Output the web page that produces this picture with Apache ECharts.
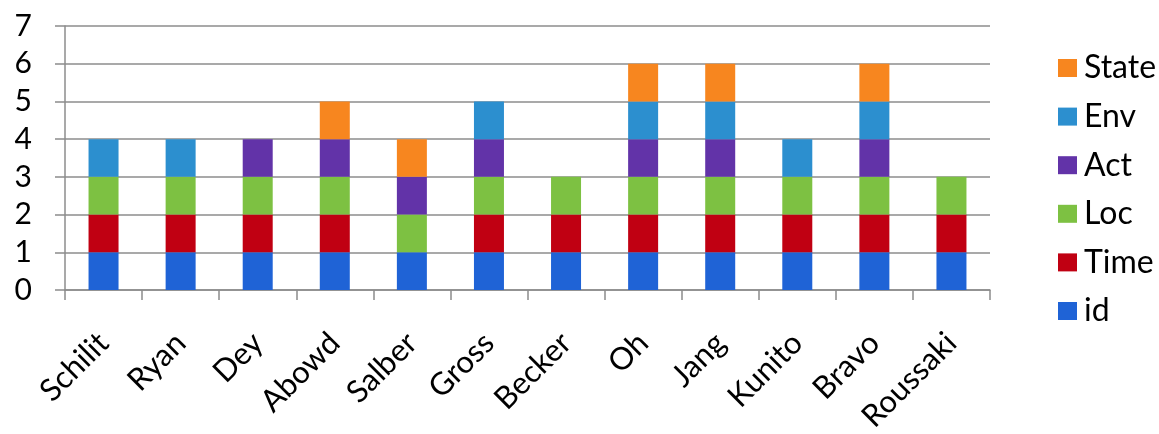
<!DOCTYPE html>
<html>
<head>
<meta charset="utf-8">
<script src="https://cdn.jsdelivr.net/npm/echarts@6/dist/echarts.min.js"></script>
<style>html,body{margin:0;padding:0;background:#fff}#c{width:1159px;height:434px}</style>
</head>
<body>
<div id="c"></div>
<script>
const categories = ['Schilit','Ryan','Dey','Abowd','Salber','Gross','Becker','Oh','Jang','Kunito','Bravo','Roussaki'];
const idVals    = [1,1,1,1,1,1,1,1,1,1,1,1];
const timeVals  = [1,1,1,1,0,1,1,1,1,1,1,1];
const locVals   = [1,1,1,1,1,1,1,1,1,1,1,1];
const actVals   = [0,0,1,1,1,1,0,1,1,0,1,0];
const envVals   = [1,1,0,0,0,1,0,1,1,1,1,0];
const stateVals = [0,0,0,1,1,0,0,1,1,0,1,0];
const yTicks = [0,1,2,3,4,5,6,7];

const FONT = 'Lato';
const colors = {id:'#1F63D6', Time:'#C00012', Loc:'#7DC142', Act:'#6233A8', Env:'#2C8FCF', State:'#F7861F'};
const seriesDefs = [
  ['id', idVals], ['Time', timeVals], ['Loc', locVals],
  ['Act', actVals], ['Env', envVals], ['State', stateVals]
];

const chart = echarts.init(document.getElementById('c'), null, {renderer:'canvas'});
chart.setOption({
  animation: false,
  backgroundColor: '#fff',
  textStyle: {fontFamily: FONT},
  grid: {left: 65, right: 169, top: 26, bottom: 144, containLabel: false, outerBoundsMode: 'none'},
  legend: {
    orient: 'vertical',
    left: 1053,
    top: 47,
    itemWidth: 19,
    itemHeight: 18,
    itemGap: 16.6,
    icon: 'rect',
    data: ['State','Env','Act','Loc','Time','id'],
    textStyle: {fontFamily: FONT, fontSize: 32, color: '#000', padding: [0,0,0,2]}
  },
  xAxis: {
    type: 'category',
    data: categories,
    axisLine: {lineStyle: {color: '#8c8c8c', width: 1.5}},
    axisTick: {show: true, length: 10, alignWithLabel: false, lineStyle: {color: '#8c8c8c', width: 1.5}},
    axisLabel: {rotate: 45, margin: 48, fontSize: 31, color: '#000', fontFamily: FONT, interval: 0}
  },
  yAxis: {
    type: 'value',
    min: 0, max: 7, interval: 1,
    axisLine: {show: true, lineStyle: {color: '#8c8c8c', width: 1.5}},
    axisTick: {show: true, length: 10, lineStyle: {color: '#8c8c8c', width: 1.5}},
    axisLabel: {margin: 33, fontSize: 30, color: '#000', fontFamily: FONT,
      formatter: v => yTicks.includes(v) ? String(v) : ''},
    splitLine: {show: true, lineStyle: {color: '#8c8c8c', width: 1.5}}
  },
  series: seriesDefs.map(([name, vals]) => ({
    name, type: 'bar', stack: 'total', barWidth: 30,
    itemStyle: {color: colors[name]},
    data: vals
  }))
});
</script>
</body>
</html>
